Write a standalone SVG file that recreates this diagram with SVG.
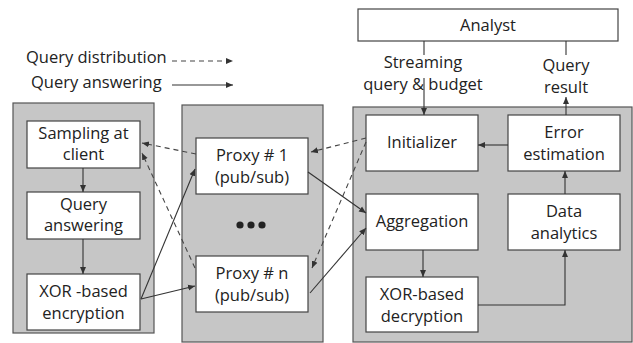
<svg xmlns="http://www.w3.org/2000/svg" width="633" height="343" viewBox="0 0 633 343">
<defs>
<marker id="ah" markerWidth="8" markerHeight="8" refX="7" refY="4" orient="auto" markerUnits="userSpaceOnUse">
<path d="M0,1 L7,4 L0,7 Z" fill="#333"/>
</marker>
<style>
.panel{fill:#c6c6c6;stroke:#555;stroke-width:1.2}
.box{fill:#fff;stroke:#444;stroke-width:1.2}
.t{font-family:"Open Sans","Liberation Sans",sans-serif;font-size:16.5px;fill:#222;text-anchor:middle}
.lg{font-family:"Open Sans","Liberation Sans",sans-serif;font-size:16.5px;fill:#222}
.s{stroke:#333;stroke-width:1.1;fill:none;marker-end:url(#ah)}
.d{stroke:#444;stroke-width:1.1;fill:none;stroke-dasharray:5,4;marker-end:url(#ah)}
.p{stroke:#333;stroke-width:1.1;fill:none}
</style>
</defs>
<rect width="633" height="343" fill="#fff"/>

<g id="legend">
<text class="lg" x="26" y="63">Query distribution</text>
<line class="d" x1="172" y1="61" x2="233" y2="61"/>
<text class="lg" x="31" y="88">Query answering</text>
<line class="s" x1="172" y1="85" x2="233" y2="85"/>
</g>

<g id="panel-client"><rect class="panel" x="13" y="103" width="141" height="230"/></g>
<g id="panel-proxy"><rect class="panel" x="182" y="105" width="141" height="237"/></g>
<g id="panel-server"><rect class="panel" x="353" y="107" width="279" height="235"/></g>

<g id="analyst"><rect class="box" x="358" y="9" width="260" height="32"/><text class="t" x="488" y="31">Analyst</text></g>

<g id="sampling"><rect class="box" x="27" y="121" width="113" height="47"/><text class="t" x="83.5" y="139">Sampling at</text><text class="t" x="83.5" y="160">client</text></g>
<g id="query-answering"><rect class="box" x="27" y="192" width="113" height="47"/><text class="t" x="83.5" y="210">Query</text><text class="t" x="83.5" y="231">answering</text></g>
<g id="xor-enc"><rect class="box" x="27" y="274" width="113" height="56"/><text class="t" x="83.5" y="297">XOR -based</text><text class="t" x="83.5" y="319">encryption</text></g>

<g id="proxy1"><rect class="box" x="196" y="138" width="112" height="56"/><text class="t" x="252" y="161">Proxy # 1</text><text class="t" x="252" y="183">(pub/sub)</text></g>
<g id="dots"><circle cx="240" cy="225" r="3.6" fill="#222"/><circle cx="251" cy="225" r="3.6" fill="#222"/><circle cx="262" cy="225" r="3.6" fill="#222"/></g>
<g id="proxyn"><rect class="box" x="196" y="256" width="112" height="56"/><text class="t" x="252" y="279">Proxy # n</text><text class="t" x="252" y="301">(pub/sub)</text></g>

<g id="initializer"><rect class="box" x="366" y="115" width="112" height="56"/><text class="t" x="422" y="148">Initializer</text></g>
<g id="error-estimation"><rect class="box" x="508" y="115" width="112" height="56"/><text class="t" x="564" y="138">Error</text><text class="t" x="564" y="160">estimation</text></g>
<g id="aggregation"><rect class="box" x="366" y="194" width="112" height="56"/><text class="t" x="422" y="227">Aggregation</text></g>
<g id="data-analytics"><rect class="box" x="508" y="194" width="112" height="56"/><text class="t" x="564" y="217">Data</text><text class="t" x="564" y="239">analytics</text></g>
<g id="xor-dec"><rect class="box" x="366" y="277" width="112" height="55"/><text class="t" x="422" y="300">XOR-based</text><text class="t" x="422" y="322">decryption</text></g>

<g id="labels">
<text class="t" x="423" y="68">Streaming</text>
<text class="t" x="423" y="90">query &amp; budget</text>
<text class="t" x="566" y="71">Query</text>
<text class="t" x="566" y="93">result</text>
</g>

<g id="connectors">
<line class="p" x1="424" y1="41" x2="424" y2="55"/>
<line class="s" x1="424" y1="78" x2="424" y2="115"/>
<line class="p" x1="566" y1="41" x2="566" y2="55"/>
<line class="s" x1="566" y1="115" x2="566" y2="97"/>
<line class="s" x1="83" y1="168" x2="83" y2="192"/>
<line class="s" x1="83" y1="239" x2="83" y2="274"/>
<line class="s" x1="141" y1="299" x2="195" y2="169"/>
<line class="s" x1="141" y1="299" x2="195" y2="286"/>
<line class="d" x1="196" y1="154" x2="142" y2="143"/>
<line class="d" x1="195" y1="268" x2="142" y2="153"/>
<line class="d" x1="366" y1="138" x2="311" y2="152"/>
<line class="d" x1="366" y1="142" x2="312" y2="268"/>
<line class="s" x1="308" y1="172" x2="366" y2="213"/>
<line class="s" x1="310" y1="293" x2="366" y2="228"/>
<line class="s" x1="423" y1="250" x2="423" y2="277"/>
<polyline class="s" points="478,305 565,305 565,250"/>
<line class="s" x1="565" y1="194" x2="565" y2="171"/>
<line class="s" x1="508" y1="145" x2="478" y2="145"/>
</g>
</svg>
